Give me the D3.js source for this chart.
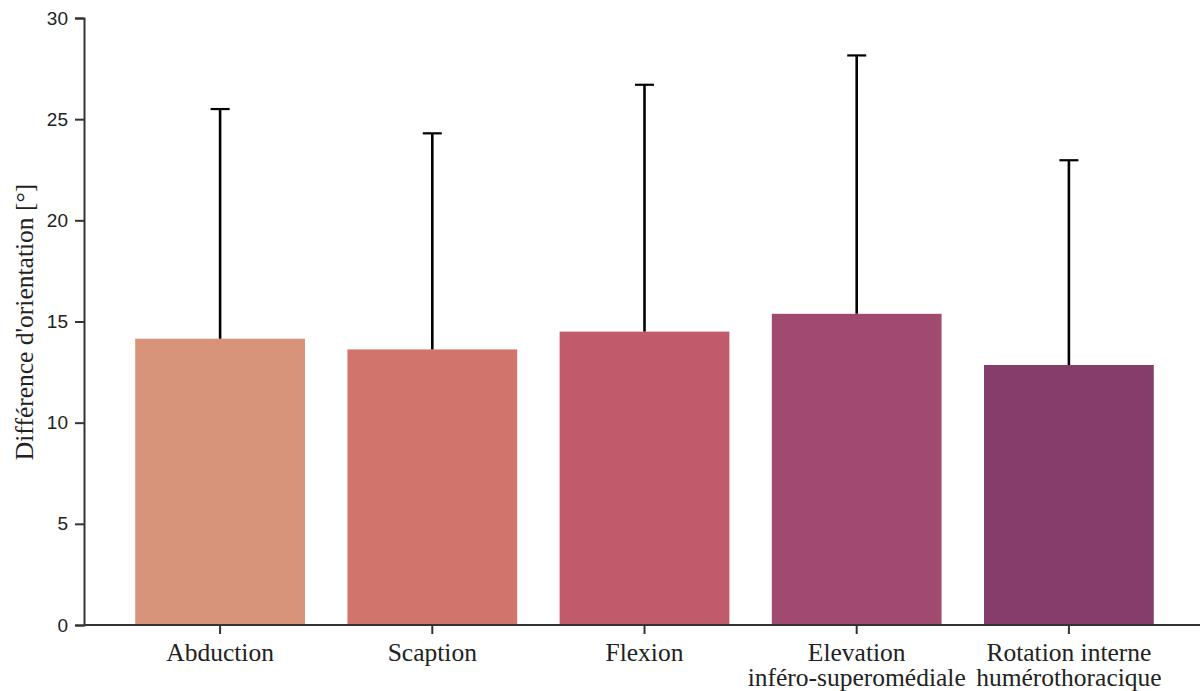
<!DOCTYPE html>
<html><head><meta charset="utf-8">
<script src="https://cdn.jsdelivr.net/npm/d3@7"></script>
<style>body{margin:0;background:#fff}</style></head>
<body><svg id="c" width="1200" height="691"></svg>
<script>
const categories = [["Abduction"],["Scaption"],["Flexion"],["Elevation","inféro-superomédiale"],["Rotation interne","humérothoracique"]];
const means = [14.15, 13.62, 14.5, 15.38, 12.85];
const errTops = [25.5, 24.3, 26.7, 28.15, 22.97];
const colors = ["#d8937b","#d1756c","#c05b6b","#a14a6f","#863d6b"];
const yTicks = [0,5,10,15,20,25,30];

const svg = d3.select("#c");
const x = d3.scaleBand().domain(d3.range(5)).range([114,1175]).paddingInner(0.2).paddingOuter(0.1);
const y = d3.scaleLinear().domain([0,30]).range([625,18]);

svg.selectAll("rect.bar").data(means).enter().append("rect")
  .attr("x",(d,i)=>x(i)).attr("width",x.bandwidth())
  .attr("y",d=>y(d)).attr("height",d=>y(0)-y(d)).attr("fill",(d,i)=>colors[i]);

const eb = svg.append("g");
means.forEach((m,i)=>{
  const cx = x(i)+x.bandwidth()/2;
  eb.append("line").attr("x1",cx).attr("x2",cx).attr("y1",y(m)).attr("y2",y(errTops[i])).attr("stroke","#000").attr("stroke-width",2.6);
  eb.append("line").attr("x1",cx-9.5).attr("x2",cx+9.5).attr("y1",y(errTops[i])).attr("y2",y(errTops[i])).attr("stroke","#000").attr("stroke-width",2.2);
});

const ya = svg.append("g").attr("transform","translate(84,0)")
  .call(d3.axisLeft(y).tickValues(yTicks).tickSize(9).tickPadding(7));
ya.select(".domain").attr("stroke","#333").attr("stroke-width",2);
ya.selectAll(".tick line").attr("stroke","#333").attr("stroke-width",2);
ya.selectAll(".tick text").attr("font-family","Liberation Sans, Arial, sans-serif").attr("font-size",19).attr("fill","#222");

const xa = svg.append("g").attr("transform","translate(0,625)");
xa.append("line").attr("x1",84).attr("x2",1200).attr("y1",0).attr("y2",0).attr("stroke","#333").attr("stroke-width",2);
categories.forEach((lines,i)=>{
  const cx = x(i)+x.bandwidth()/2;
  xa.append("line").attr("x1",cx).attr("x2",cx).attr("y1",0).attr("y2",9).attr("stroke","#333").attr("stroke-width",2);
  const t = xa.append("text").attr("x",cx).attr("y",36).attr("text-anchor","middle")
    .attr("font-family","Liberation Serif, Times New Roman, serif").attr("font-size",25.5).attr("fill","#222");
  lines.forEach((l,k)=>t.append("tspan").attr("x",cx).attr("dy",k===0?0:25).text(l));
});

svg.append("text").attr("transform","translate(33,322) rotate(-90)").attr("text-anchor","middle")
  .attr("font-family","Liberation Serif, Times New Roman, serif").attr("font-size",25.5).attr("fill","#222")
  .text("Différence d'orientation [°]");
</script></body></html>
